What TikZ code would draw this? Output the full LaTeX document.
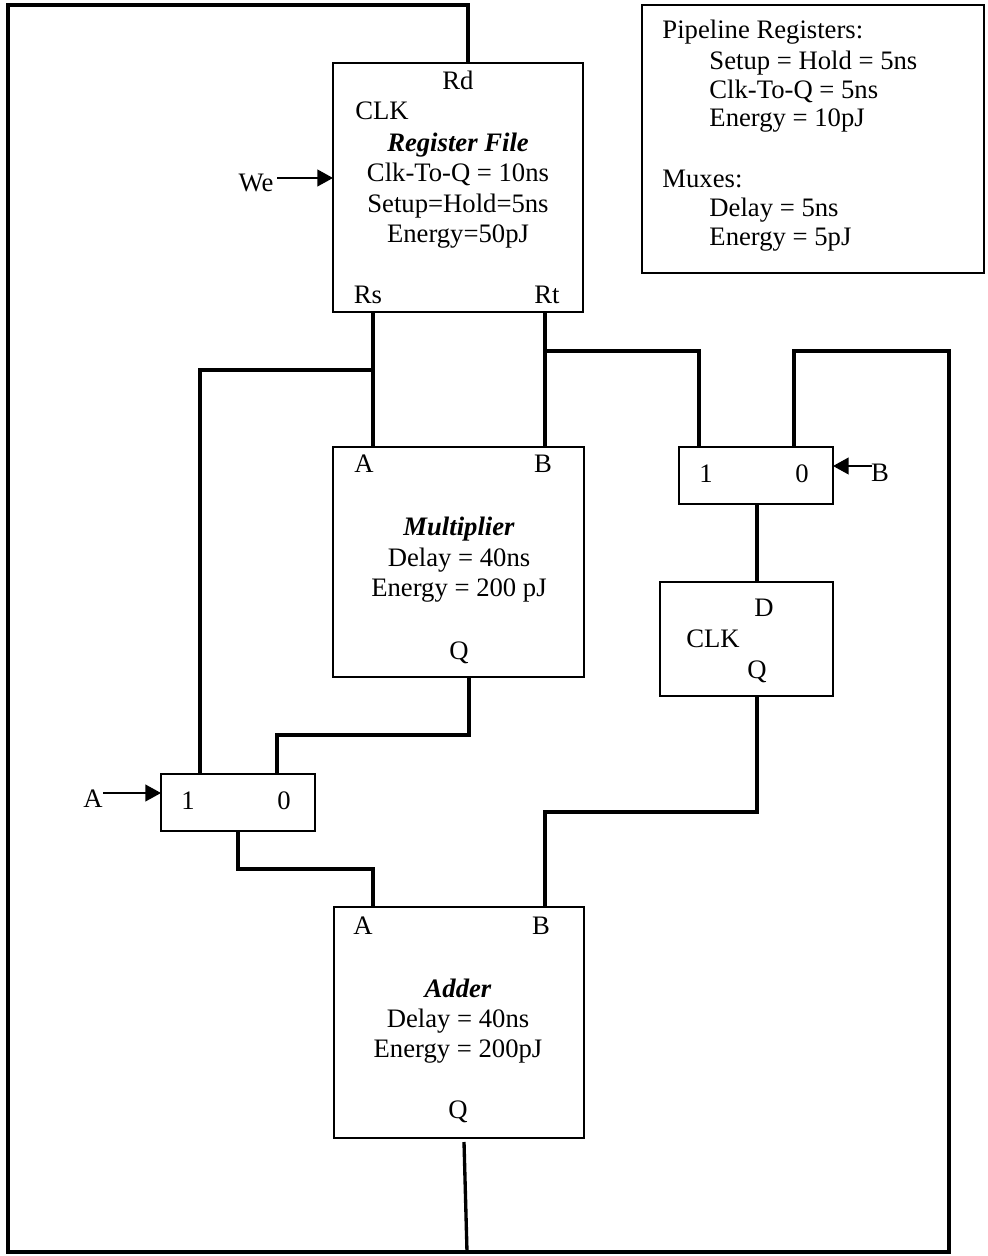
\documentclass[tikz,border=0pt]{standalone}
\usepackage{fontspec}
\setmainfont{Liberation Serif}
\usetikzlibrary{arrows.meta,fit}

\begin{document}
\begin{tikzpicture}[x=0.45pt,y=-0.45pt,
  box/.style={draw,line width=0.7pt,inner sep=0pt},
  wire/.style={line width=1.5pt},
  sig/.style={line width=0.8pt,-{Triangle[length=7pt,width=7.5pt]}},
  lbl/.style={anchor=base,inner sep=0pt,font=\fontsize{12}{14}\selectfont},
  lgd/.style={lbl,anchor=base west},
  ttl/.style={lbl,font=\fontsize{12}{14}\selectfont\bfseries\itshape}]
\useasboundingbox (0,0) rectangle (987,1256);
% blocks
\node [box,fit={(333,63) (583,312)}] (rf) {};
\node [box,fit={(333,447) (584,677)}] (mul) {};
\node [box,fit={(334,907) (584,1138)}] (add) {};
\node [box,fit={(679,447) (833,504)}] (muxb) {};
\node [box,fit={(660,582) (833,696)}] (preg) {};
\node [box,fit={(161,774) (315,831)}] (muxa) {};
\node [box,fit={(642,5) (984,273)}] (legend) {};
% register file
\node [lbl] (rfrd) at (458,90) {Rd};
\node [lbl] (rfclk) at (382,120) {CLK};
\node [ttl] (rfname) at (458,152) {Register File};
\node [lbl] (rfclkq) at (458,182) {Clk-To-Q = 10ns};
\node [lbl] (rfsetup) at (458,213) {Setup=Hold=5ns};
\node [lbl] (rfenergy) at (458,243) {Energy=50pJ};
\node [lbl] (rfrs) at (368,304) {Rs};
\node [lbl] (rfrt) at (547,304) {Rt};
\node [lbl] (we) at (256,192) {We};
% multiplier
\node [lbl] (mula) at (364,473) {A};
\node [lbl] (mulb) at (543,473) {B};
\node [ttl] (mulname) at (459,536) {Multiplier};
\node [lbl] (muldelay) at (459,566) {Delay = 40ns};
\node [lbl] (mulenergy) at (459,596) {Energy = 200 pJ};
\node [lbl] (mulq) at (459,659) {Q};
% adder
\node [lbl] (adda) at (363,934) {A};
\node [lbl] (addb) at (541,934) {B};
\node [ttl] (addname) at (458,997) {Adder};
\node [lbl] (adddelay) at (458,1027) {Delay = 40ns};
\node [lbl] (addenergy) at (458,1057) {Energy = 200pJ};
\node [lbl] (addq) at (458,1118) {Q};
% muxes and pipeline register
\node [lbl] (muxbone) at (706,483) {1};
\node [lbl] (muxbzero) at (802,483) {0};
\node [lbl] (bsel) at (880,482) {B};
\node [lbl] (pregd) at (764,616) {D};
\node [lbl] (pregclk) at (713,647) {CLK};
\node [lbl] (pregq) at (757,678) {Q};
\node [lbl] (muxaone) at (188,809) {1};
\node [lbl] (muxazero) at (284,809) {0};
\node [lbl] (asel) at (93,807) {A};
% legend
\node [lgd] (lgpipe) at (662,39) {Pipeline Registers:};
\node [lgd] (lgsetup) at (709,70) {Setup = Hold = 5ns};
\node [lgd] (lgclkq) at (709,99) {Clk-To-Q = 5ns};
\node [lgd] (lgenergy) at (709,127) {Energy = 10pJ};
\node [lgd] (lgmux) at (662,188) {Muxes:};
\node [lgd] (lgdelay) at (709,217) {Delay = 5ns};
\node [lgd] (lgmuxen) at (709,246) {Energy = 5pJ};
% ports
\coordinate (rfRd) at (468,63);
\coordinate (rfRs) at (373,312);
\coordinate (rfRt) at (545,312);
\coordinate (rfWe) at (333,178);
\coordinate (weT) at (277,178);
\coordinate (mulA) at (373,447);
\coordinate (mulB) at (545,447);
\coordinate (mulQ) at (469,677);
\coordinate (addA) at (373,907);
\coordinate (addB) at (545,907);
\coordinate (addQ) at (464,1142);
\coordinate (muxb1) at (699,447);
\coordinate (muxb0) at (794,447);
\coordinate (muxbO) at (757,504);
\coordinate (muxbS) at (833,466);
\coordinate (bselT) at (872,466);
\coordinate (pregD) at (757,582);
\coordinate (pregQ) at (757,696);
\coordinate (muxa1) at (200,774);
\coordinate (muxa0) at (277,774);
\coordinate (muxaO) at (238,831);
\coordinate (muxaS) at (161,793);
\coordinate (aselT) at (103,793);
\coordinate (loopB) at (467,1252);
% wires
\draw [wire] (rfRd) -- (468,5) -| (loopB -| 8,0) -- (loopB) -- (949,1252) |- (794,351) -- (muxb0);
\draw [wire] (addQ) -- (loopB);
\draw [wire] (rfRs) -- (mulA);
\draw [wire] (373,370) -| (muxa1);
\draw [wire] (rfRt) -- (mulB);
\draw [wire] (545,351) -| (muxb1);
\draw [wire] (muxbO) -- (pregD);
\draw [wire] (pregQ) |- (545,812) -- (addB);
\draw [wire] (mulQ) |- (277,735) -- (muxa0);
\draw [wire] (muxaO) |- (373,869) -- (addA);
% select and enable inputs
\draw [sig] (weT) -- (rfWe);
\draw [sig] (bselT) -- (muxbS);
\draw [sig] (aselT) -- (muxaS);
\end{tikzpicture}
\end{document}
